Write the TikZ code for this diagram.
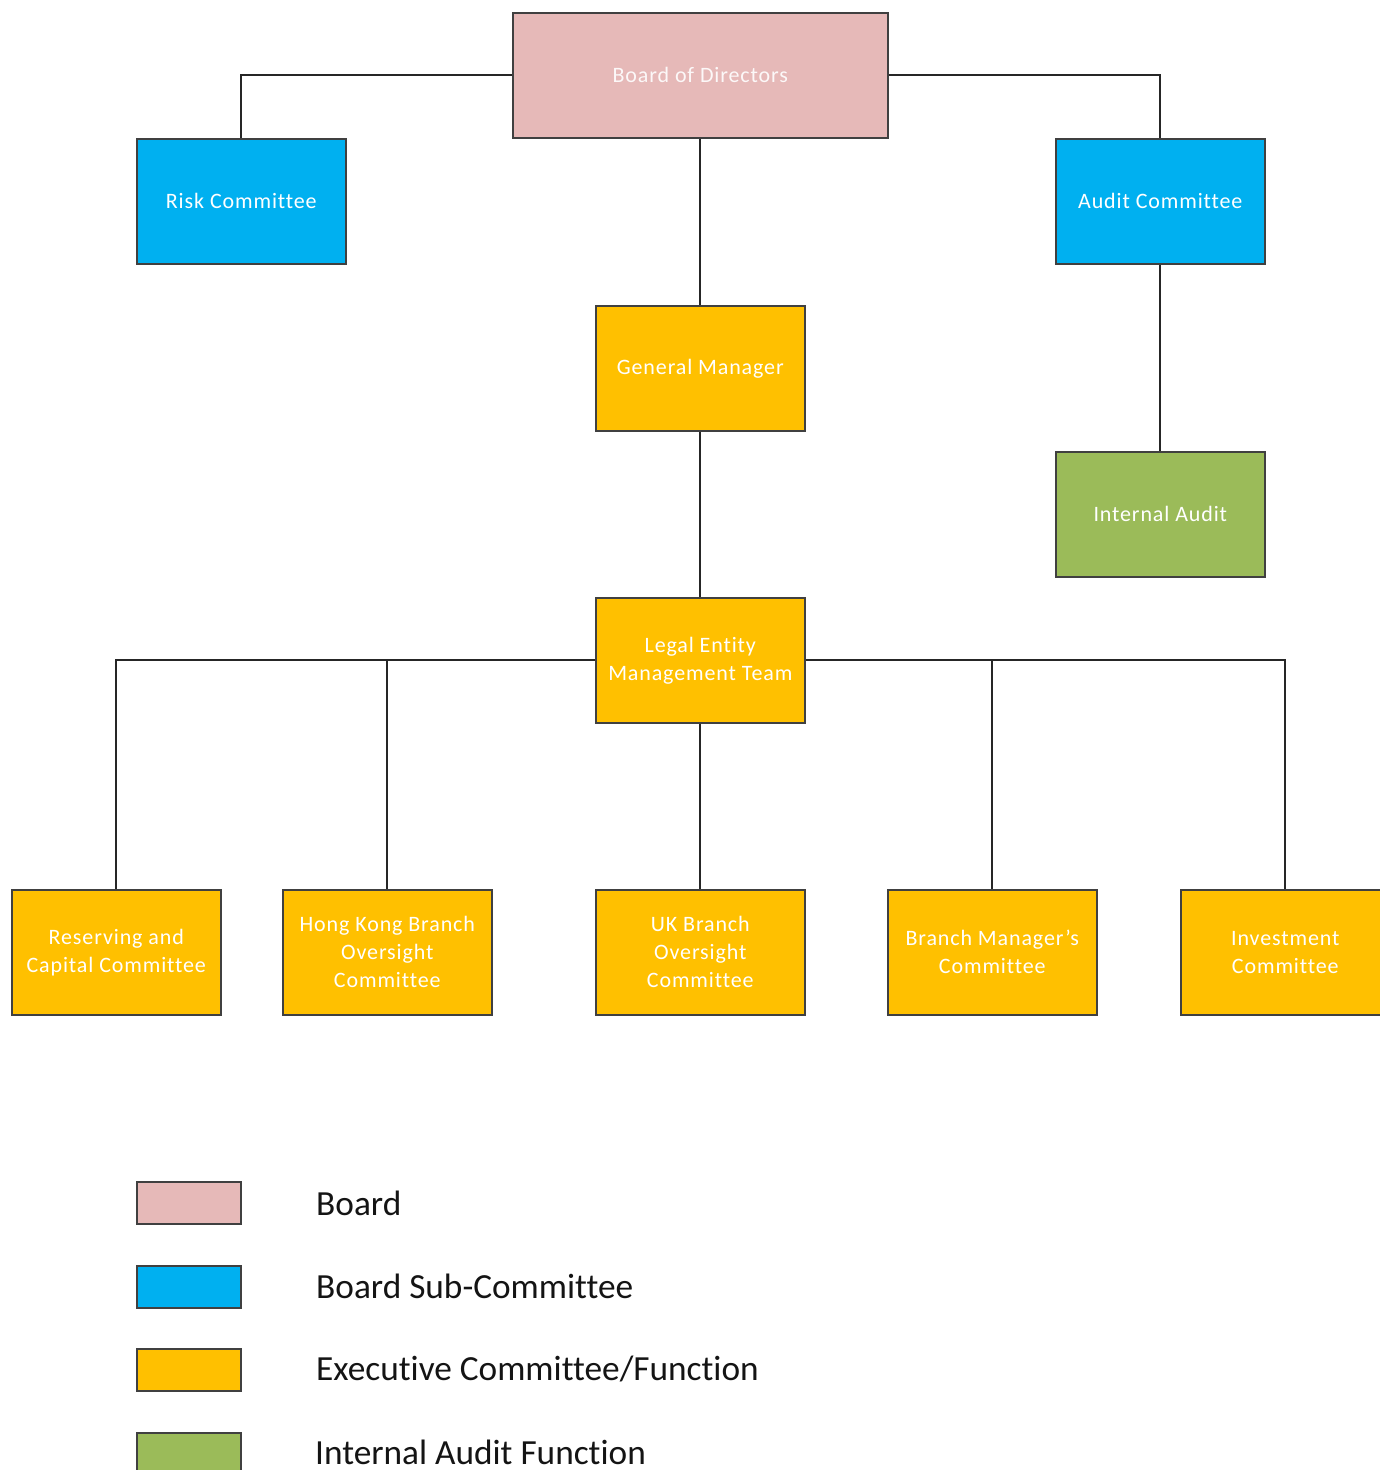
\documentclass[tikz,border=0pt]{standalone}
\usepackage{fontspec}
\setmainfont[Ligatures=NoCommon]{Carlito}
\newfontfamily\boxfont[LetterSpace=4,Ligatures=NoCommon]{Carlito}
\definecolor{boardc}{HTML}{E6B9B8}
\definecolor{subc}{HTML}{00B0F0}
\definecolor{execc}{HTML}{FFC000}
\definecolor{iac}{HTML}{9BBB59}
\definecolor{edge}{HTML}{404040}
\definecolor{legtxt}{HTML}{141414}
\begin{document}
\begin{tikzpicture}[x=1pt,y=-1pt,
  box/.style={draw=edge,line width=1.6pt,minimum width=209pt,minimum height=125pt,inner sep=0pt,
    text=white,font=\boxfont\fontsize{22}{28}\selectfont,align=center,anchor=north west},
  legbox/.style={draw=edge,line width=1.6pt,minimum width=104pt,minimum height=42pt,inner sep=0pt,anchor=north west},
  legtext/.style={text=legtxt,font=\fontsize{35.3}{40}\selectfont,anchor=west,inner sep=0pt},
  conn/.style={draw=black!85,line width=1.7pt}]
\useasboundingbox (0,0) rectangle (1379,1470);
\fill[white] (0,0) rectangle (1379,1470);
% nodes
\node[box,fill=boardc,minimum width=375pt,text=white!90!boardc] (bod) at (512,12) {Board of Directors};
\node[box,fill=subc] (risk) at (136,138) {Risk Committee};
\node[box,fill=subc] (audit) at (1055,138) {Audit Committee};
\node[box,fill=execc] (gm) at (595,305) {General Manager};
\node[box,fill=iac] (ia) at (1055,451) {Internal Audit};
\node[box,fill=execc] (lemt) at (595,597) {Legal Entity\\Management Team};
\node[box,fill=execc] (rc) at (11,889) {Reserving and\\Capital Committee};
\node[box,fill=execc] (hk) at (282,889) {Hong Kong Branch\\Oversight\\Committee};
\node[box,fill=execc] (uk) at (595,889) {UK Branch\\Oversight\\Committee};
\node[box,fill=execc] (bm) at (887,889) {Branch Manager’s\\Committee};
\node[box,fill=execc] (inv) at (1180,889) {Investment\\Committee};
% connectors
\draw[conn] (bod.west) -| (risk.north);
\draw[conn] (bod.east) -| (audit.north);
\draw[conn] (bod.south) -- (gm.north);
\draw[conn] (gm.south) -- (lemt.north);
\draw[conn] (audit.south) -- (ia.north);
\draw[conn] (lemt.west) -| (rc.north);
\draw[conn] (lemt.west -| hk.north) -- (hk.north);
\draw[conn] (lemt.east) -| (inv.north);
\draw[conn] (lemt.east -| bm.north) -- (bm.north);
\draw[conn] (lemt.south) -- (uk.north);
% legend
\node[legbox,fill=boardc] (l1) at (136,1181) {};
\node[legbox,fill=subc] (l2) at (136,1265) {};
\node[legbox,fill=execc] (l3) at (136,1348) {};
\node[legbox,fill=iac] (l4) at (136,1432) {};
\node[legtext] (t1) at (316,1203) {Board};
\node[legtext] (t2) at (316,1286) {Board Sub-Committee};
\node[legtext] (t3) at (316,1369) {Executive Committee/Function};
\node[legtext] (t4) at (315,1452) {Internal Audit Function};
\end{tikzpicture}
\end{document}
